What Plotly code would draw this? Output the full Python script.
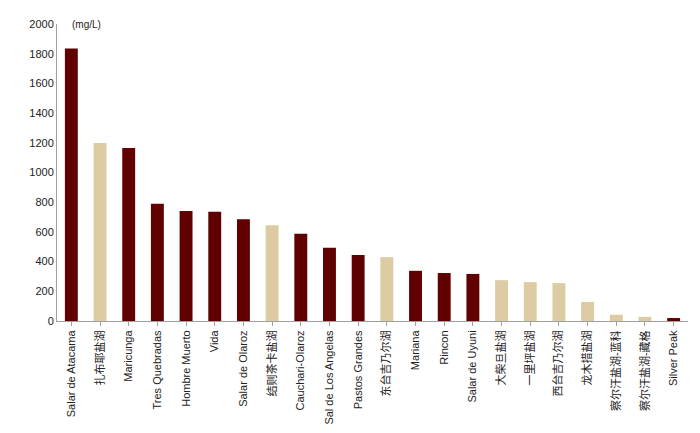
import plotly.graph_objects as go

names = ["Salar de Atacama", "扎布耶盐湖", "Maricunga", "Tres Quebradas", "Hombre Muerto",
         "Vida", "Salar de Olaroz", "结则茶卡盐湖", "Cauchari-Olaroz", "Sal de Los Angelas",
         "Pastos Grandes", "东台吉乃尔湖", "Mariana", "Rincon", "Salar de Uyuni",
         "大柴旦盐湖", "一里坪盐湖", "西台吉乃尔湖", "龙木措盐湖", "察尔汗盐湖-蓝科",
         "察尔汗盐湖-藏格", "Silver Peak"]
values = [1835, 1198, 1165, 790, 740, 735, 685, 645, 587, 493, 444, 430, 338, 323, 317,
          275, 262, 255, 128, 42, 28, 20]
is_china = [False, True, False, False, False, False, False, True, False, False, False, True,
            False, False, False, True, True, True, True, True, True, False]

colors = ["#DDCCA3" if c else "#600000" for c in is_china]

fig = go.Figure(go.Bar(x=names, y=values, marker=dict(color=colors, line=dict(width=0)), width=0.45))

fig.update_layout(
    width=700, height=433,
    margin=dict(l=49, r=20, t=16, b=120),
    plot_bgcolor="white", paper_bgcolor="white",
    font=dict(family="Liberation Sans, Noto Sans CJK SC", size=11, color="#222"),
    showlegend=False,
)
fig.update_xaxes(tickangle=-90, showline=True, linecolor="#A0A0A0", ticks="outside",
                 tickcolor="#A0A0A0", ticklen=4, tickfont=dict(size=11), automargin=False)
fig.update_yaxes(range=[0, 2000], dtick=200, showline=True, linecolor="#A0A0A0",
                 showgrid=False, ticks="", tickfont=dict(size=11), zeroline=False,
                 automargin=False)
fig.add_annotation(text="(mg/L)", xref="paper", yref="paper", x=0.02, y=1.0,
                   showarrow=False, xanchor="left", yanchor="middle", font=dict(size=10))

fig.write_html("out.html")
